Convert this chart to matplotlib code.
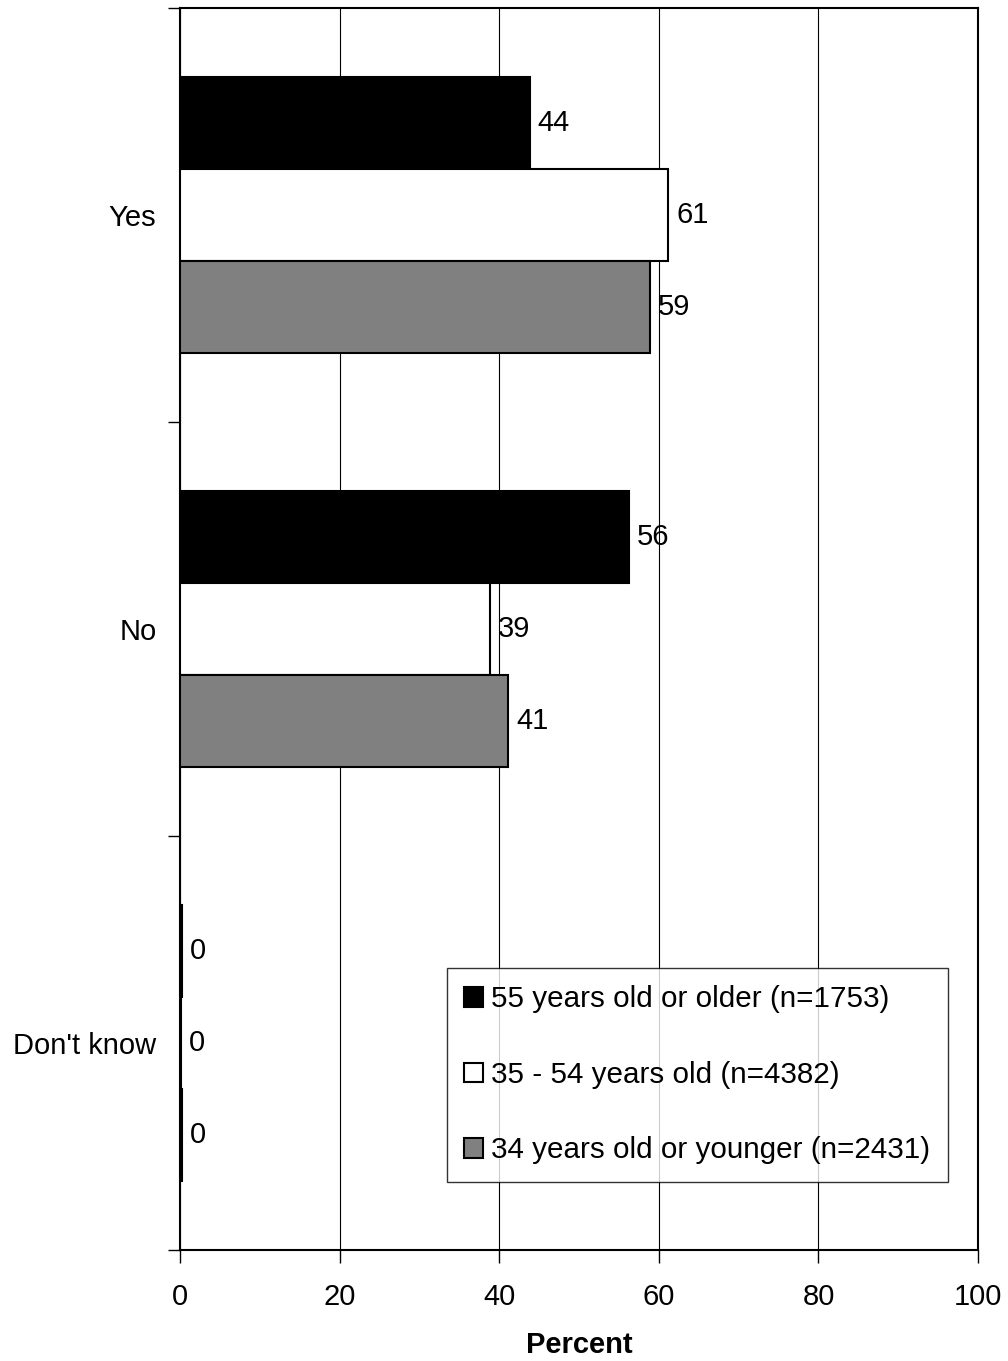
import matplotlib as mpl

mpl.rcParams["font.family"] = ["Liberation Sans", "DejaVu Sans"]
mpl.rcParams.update({"font.size": 21})

import matplotlib.pyplot as plt
import numpy as np

categories = ["Yes", "No", "Don't know"]
groups = [
    "55 years old or older (n=1753)",
    "35 - 54 years old (n=4382)",
    "34 years old or younger (n=2431)",
]
older = [43.8, 56.2, 0.2]
middle = [61.2, 38.8, 0.1]
younger = [58.9, 41.1, 0.2]
colors = ["#000000", "#ffffff", "#808080"]

series = [older, middle, younger]

fig = plt.figure(figsize=(10.08, 13.61), dpi=100)
ax = fig.add_axes([0.1786, 0.0816, 0.7917, 0.9126])

y = np.arange(len(categories))
h = 0.222
offsets = [-h, 0, h]

for vals, col, off, name in zip(series, colors, offsets, groups):
    ax.barh(y + off, vals, height=h, color=col, edgecolor="black",
            linewidth=1.5, label=name, zorder=3)
    for yi, v in zip(y, vals):
        ax.text(v + 1.0, yi + off, "%d" % round(v), va="center", ha="left",
                fontsize=21, zorder=4)

ax.set_xlim(0, 100)
ax.set_ylim(2.5, -0.5)
ax.set_xticks([0, 20, 40, 60, 80, 100])
ax.tick_params(axis="x", direction="out", length=9, width=1, pad=15)
ax.xaxis.grid(True, color="black", linewidth=0.8)
ax.set_axisbelow(True)

ax.set_yticks([-0.5, 0.5, 1.5, 2.5])
ax.set_yticklabels([])
ax.tick_params(axis="y", which="major", direction="out", length=9, width=1)
ax.set_yticks(y, minor=True)
ax.set_yticklabels(categories, minor=True)
ax.tick_params(axis="y", which="minor", length=0, pad=17)

for s in ax.spines.values():
    s.set_linewidth(1.5)

ax.set_xlabel("Percent", fontweight="bold", labelpad=14)

leg = ax.legend(loc="lower right", bbox_to_anchor=(0.9624, 0.0548),
                frameon=True, fancybox=False, edgecolor="black",
                handlelength=0.64, handleheight=0.64, handletextpad=0.27,
                labelspacing=1.6, borderpad=0.6, borderaxespad=0,
                fontsize=21.3)
leg.get_frame().set_linewidth(1.0)

fig.savefig("out.png", dpi=100)
